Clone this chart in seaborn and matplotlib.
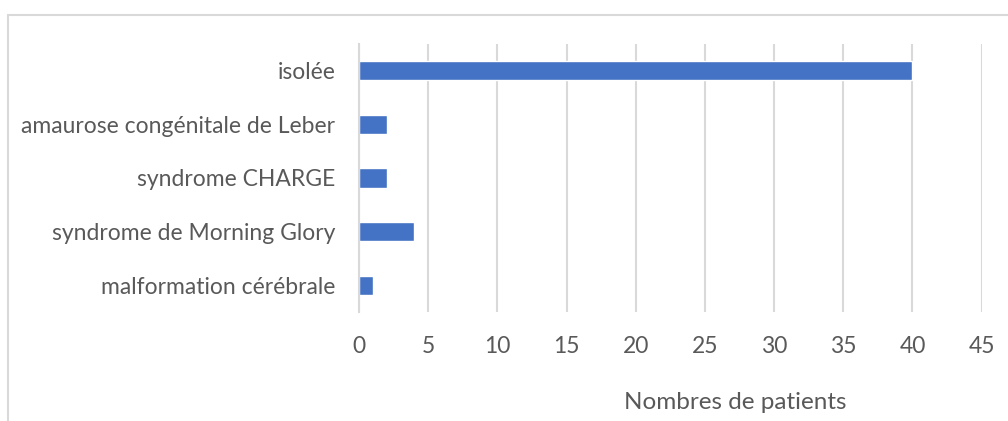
import matplotlib
matplotlib.use('Agg')
import matplotlib.pyplot as plt
from matplotlib.patches import Rectangle
import pandas as pd
import seaborn as sns

# Data
categories = ['isolée', 'amaurose congénitale de Leber', 'syndrome CHARGE',
              'syndrome de Morning Glory', 'malformation cérébrale']
patients = [40, 2, 2, 4, 1]
xticks = [0, 5, 10, 15, 20, 25, 30, 35, 40, 45]

df = pd.DataFrame({'categorie': categories, 'patients': patients})

sns.set_style('white')
plt.rcParams['font.family'] = ['Lato', 'DejaVu Sans']

grey_txt = '#595959'
grid_col = '#D9D9D9'

fig = plt.figure(figsize=(10.08, 4.21), dpi=100)
ax = fig.add_axes([359 / 1008, 1 - 312 / 421, (981.6 - 359) / 1008, (312 - 44) / 421])

sns.barplot(data=df, x='patients', y='categorie', order=categories, orient='h',
            color='#4472C4', saturation=1, width=0.36, ax=ax)

ax.set_xlim(0, 45)
ax.set_xticks(xticks)
ax.set_xticklabels([str(t) for t in xticks])
ax.grid(axis='x', color=grid_col, linewidth=1.5)
ax.set_axisbelow(True)
for s in ['top', 'right', 'bottom']:
    ax.spines[s].set_visible(False)
ax.spines['left'].set_color(grid_col)
ax.spines['left'].set_linewidth(1.5)
ax.tick_params(axis='x', length=0, pad=17, labelsize=16.5, colors=grey_txt)
ax.tick_params(axis='y', length=0, pad=17, labelsize=16.5, colors=grey_txt)
ax.set_ylabel('')
ax.set_xlabel('Nombres de patients', fontsize=17.5, color=grey_txt)
ax.xaxis.set_label_coords(0.604, -0.30)

# partial chart border
fig.add_artist(Rectangle((7.5 / 1008, -0.1), 1.2, 1 - 15 / 421 + 0.1,
                         transform=fig.transFigure, fill=False,
                         edgecolor=grid_col, linewidth=1.5))

fig.savefig('out.png', dpi=100)
